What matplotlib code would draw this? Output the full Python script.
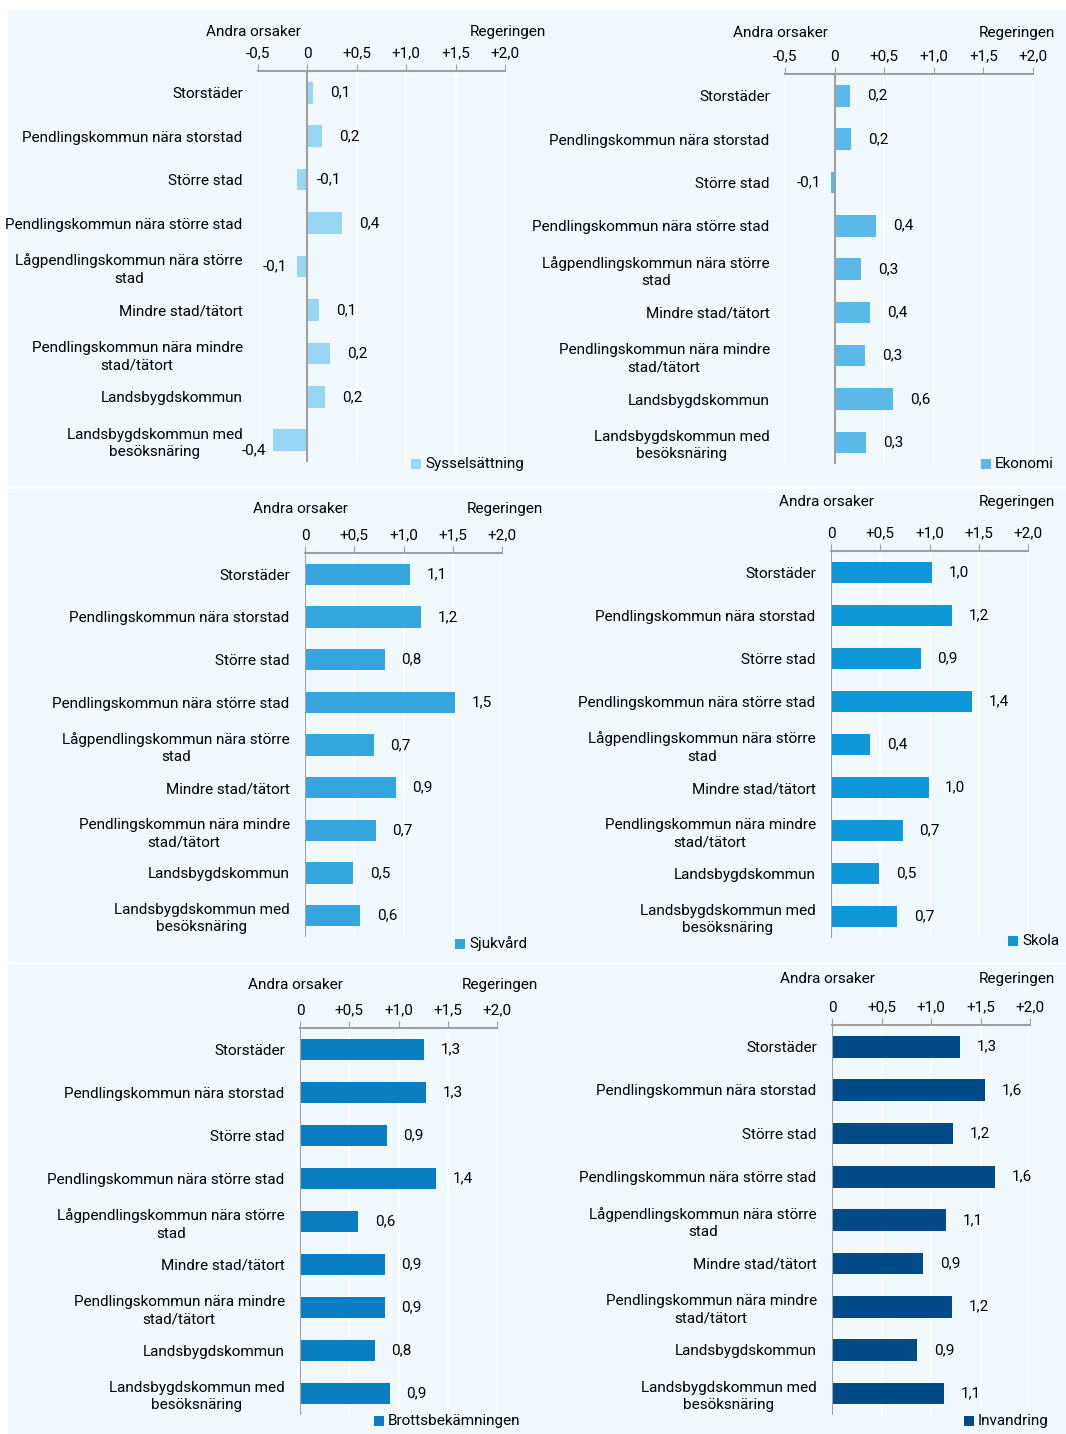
import matplotlib
matplotlib.use("Agg")
import matplotlib.pyplot as plt
from matplotlib.patches import Rectangle
from matplotlib.lines import Line2D

plt.rcParams['font.family'] = ['Roboto', 'DejaVu Sans']

# kategorier (samma i alla paneler)
kategorier = ["Storstäder", "Pendlingskommun nära storstad", "Större stad",
              "Pendlingskommun nära större stad",
              "Lågpendlingskommun nära större\nstad", "Mindre stad/tätort",
              "Pendlingskommun nära mindre\nstad/tätort", "Landsbygdskommun",
              "Landsbygdskommun med\nbesöksnäring"]

serier = ["Sysselsättning", "Ekonomi", "Sjukvård", "Skola",
          "Brottsbekämningen", "Invandring"]

# stapellängder (avlästa) och visade etiketter
sysselsattning = [0.06, 0.15, -0.11, 0.35, -0.11, 0.12, 0.23, 0.18, -0.35]
ekonomi = [0.16, 0.17, -0.04, 0.42, 0.27, 0.36, 0.31, 0.59, 0.32]
sjukvard = [1.07, 1.18, 0.81, 1.52, 0.70, 0.92, 0.72, 0.49, 0.56]
skola = [1.03, 1.23, 0.91, 1.43, 0.40, 0.99, 0.73, 0.49, 0.67]
brott = [1.26, 1.28, 0.88, 1.38, 0.59, 0.86, 0.86, 0.76, 0.91]
invandring = [1.29, 1.55, 1.22, 1.65, 1.15, 0.92, 1.21, 0.86, 1.13]

etiketter_syss = ["0,1", "0,2", "-0,1", "0,4", "-0,1", "0,1", "0,2", "0,2", "-0,4"]
etiketter_ekon = ["0,2", "0,2", "-0,1", "0,4", "0,3", "0,4", "0,3", "0,6", "0,3"]
etiketter_sjuk = ["1,1", "1,2", "0,8", "1,5", "0,7", "0,9", "0,7", "0,5", "0,6"]
etiketter_skol = ["1,0", "1,2", "0,9", "1,4", "0,4", "1,0", "0,7", "0,5", "0,7"]
etiketter_brott = ["1,3", "1,3", "0,9", "1,4", "0,6", "0,9", "0,9", "0,8", "0,9"]
etiketter_inv = ["1,3", "1,6", "1,2", "1,6", "1,1", "0,9", "1,2", "0,9", "1,1"]

varden = [sysselsattning, ekonomi, sjukvard, skola, brott, invandring]
etiketter = [etiketter_syss, etiketter_ekon, etiketter_sjuk, etiketter_skol,
             etiketter_brott, etiketter_inv]
farger = ["#99D5F4", "#5BB9E8", "#35A6DD", "#0E97D9", "#0A7EC2", "#004B87"]

W, H = 1066, 1434
fig = plt.figure(figsize=(W / 100, H / 100), dpi=100)
fig.patch.set_facecolor("white")
bg = "#F1F9FE"
fig.add_artist(Rectangle((8 / W, 0), 1 - 8 / W, 1 - 10 / H, transform=fig.transFigure,
                         facecolor=bg, edgecolor="none", zorder=-10))
for yy in (487, 963):
    fig.add_artist(Line2D([8 / W, 1], [1 - yy / H] * 2, transform=fig.transFigure,
                          color="white", lw=2, zorder=-9))

# layout i pixlar: x vid xmin, x vid 2.0, topp, botten, xmin, rubrik-y, legend (x, y)
layout = [
    (258, 505, 71, 462, -0.5, 32, (411, 464)),
    (785, 1033, 74, 464, -0.5, 33, (981, 464)),
    (305, 502, 553, 937, 0.0, 509, (455, 944)),
    (831, 1028, 551, 938, 0.0, 502, (1008, 941)),
    (300, 497, 1028, 1415, 0.0, 985, (374, 1421)),
    (832, 1030, 1025, 1415, 0.0, 979, (964, 1421)),
]
# negativa etiketter: till höger om nollan, resp. förskjutna nedåt
hoger = {(0, 2)}
nedat = {(0, 8)}

fs = 11
gra = "#A0A0A0"
tickvals = [-0.5, 0, 0.5, 1.0, 1.5, 2.0]
ticktext = ["-0,5", "0", "+0,5", "+1,0", "+1,5", "+2,0"]

for i, (x0, x1, top, bot, xmin, hy, leg) in enumerate(layout):
    ax = fig.add_axes([x0 / W, 1 - bot / H, (x1 - x0) / W, (bot - top) / H])
    ax.set_facecolor(bg)
    y = list(range(len(kategorier)))
    ax.barh(y, varden[i], height=0.5, color=farger[i], zorder=3)
    ax.set_xlim(xmin, 2.0)
    ax.set_ylim(len(kategorier) - 0.5, -0.5)
    ax.set_yticks(y)
    ax.set_yticklabels(kategorier, fontsize=fs)
    for t in ax.get_yticklabels():
        t.set_multialignment("center")
        t.set_linespacing(1.3)
    ax.tick_params(axis="y", length=0, pad=11)
    tv = [t for t in tickvals if t >= xmin]
    ax.set_xticks(tv)
    ax.set_xticklabels(ticktext[len(tickvals) - len(tv):], fontsize=fs)
    ax.xaxis.tick_top()
    ax.tick_params(axis="x", direction="out", length=5, color=gra, pad=2.5)
    ax.grid(axis="x", color="white", lw=1.5, zorder=1)
    for s in ("left", "right", "bottom"):
        ax.spines[s].set_visible(False)
    ax.spines["top"].set_color(gra)
    ax.spines["top"].set_linewidth(1.5)
    ax.axvline(0, color=gra, lw=1.5, zorder=4)
    for j, v in enumerate(varden[i]):
        if v >= 0 or (i, j) in hoger:
            ax.annotate(etiketter[i][j], (max(v, 0), j), xytext=(12 if v >= 0 else 7, 0),
                        textcoords="offset points", ha="left", va="center", fontsize=fs)
        else:
            dx, dy = (-5, -7) if (i, j) in nedat else (-7, 0)
            ax.annotate(etiketter[i][j], (v, j), xytext=(dx, dy),
                        textcoords="offset points", ha="right", va="center", fontsize=fs)
    # rubriker
    fig.text((x0 - 5) / W, 1 - hy / H, "Andra orsaker", ha="center", va="center", fontsize=fs)
    rx = min(x1 + 3, 1057 - 40)
    fig.text(rx / W, 1 - hy / H, "Regeringen", ha="center", va="center", fontsize=fs)
    # legend
    lx, ly = leg
    fig.add_artist(Rectangle((lx / W, 1 - (ly + 5) / H), 10 / W, 10 / H,
                             transform=fig.transFigure, facecolor=farger[i],
                             edgecolor="none"))
    fig.text((lx + 14) / W, 1 - ly / H, serier[i], ha="left", va="center", fontsize=fs)

fig.savefig("out.png", dpi=100, facecolor=fig.get_facecolor())
